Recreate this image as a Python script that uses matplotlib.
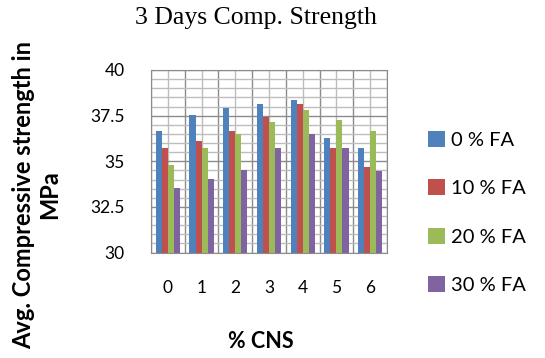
import numpy as np
import matplotlib
matplotlib.use("Agg")
import matplotlib.pyplot as plt

# compressive strength (MPa) after 3 days, per % CNS and % FA mix
cns = ["0", "1", "2", "3", "4", "5", "6"]
fa_labels = ["0 % FA", "10 % FA", "20 % FA", "30 % FA"]
fa_0 = [36.65, 37.53, 37.9, 38.13, 38.33, 36.3, 35.75]
fa_10 = [35.75, 36.1, 36.65, 37.4, 38.13, 35.75, 34.69]
fa_20 = [34.82, 35.75, 36.48, 37.16, 37.8, 37.25, 36.65]
fa_30 = [33.53, 34.05, 34.5, 35.75, 36.52, 35.75, 34.47]

colors = ["#4F81BD", "#C0504D", "#9BBB59", "#8064A2"]
sans = ["Lato", "DejaVu Sans"]

fig = plt.figure(figsize=(5.45, 3.58), dpi=100)
ax = fig.add_axes([151 / 545, 1 - 252.5 / 358, 236 / 545, 182.5 / 358])

x = np.arange(len(cns))
w = 0.18
for i, (vals, c, lab) in enumerate(zip([fa_0, fa_10, fa_20, fa_30], colors, fa_labels)):
    ax.bar(x + (i - 1.5) * w, np.array(vals) - 30, bottom=30, width=w,
           color=c, label=lab, zorder=3)

ax.set_xlim(-0.5, 6.5)
ax.set_ylim(30, 40)
ax.set_xticks(x)
ax.set_xticklabels(cns)
ax.set_yticks([30, 32.5, 35, 37.5, 40])
ax.set_yticklabels(["30", "32.5", "35", "37.5", "40"])

# grid: darker lines at category edges / every 2.5, lighter in between
for v in np.arange(-0.5, 6.6, 0.5):
    major = abs(v - round(v)) > 0.1
    ax.axvline(v, color="#8c8c8c" if major else "#bdbdbd", lw=1.0, zorder=1)
for v in np.arange(30, 40.01, 0.5):
    major = abs(v / 2.5 - round(v / 2.5)) < 1e-6
    ax.axhline(v, color="#8c8c8c" if major else "#bdbdbd", lw=1.0, zorder=1)

for s in ax.spines.values():
    s.set_color("#8c8c8c")
ax.tick_params(which="both", length=0)
ax.tick_params(axis="x", pad=20)
ax.tick_params(axis="y", pad=19)
for t in ax.get_xticklabels() + ax.get_yticklabels():
    t.set_family(sans)
    t.set_fontsize(12.5)

fig.text(256 / 545, 1 - 18 / 358, "3 Days Comp. Strength",
         family="Liberation Serif", fontsize=18.5, ha="center", va="center")
fig.text(37 / 545, 1 - 195 / 358, "Avg. Compressive strength in\nMPa",
         rotation=90, family=sans, fontweight="bold", fontsize=17,
         ha="center", va="center", multialignment="center", linespacing=1.15)
fig.text(261 / 545, 1 - 342 / 358, "% CNS", family=sans, fontweight="bold",
         fontsize=15.5, ha="center", va="center")

fig.legend(loc="upper left", bbox_to_anchor=(410 / 545, 1 - 113 / 358),
           frameon=False, handlelength=0.85, handleheight=0.85,
           handletextpad=0.3, labelspacing=1.5,
           prop={"family": sans, "size": 14.5})

fig.savefig("out.png", dpi=100)
